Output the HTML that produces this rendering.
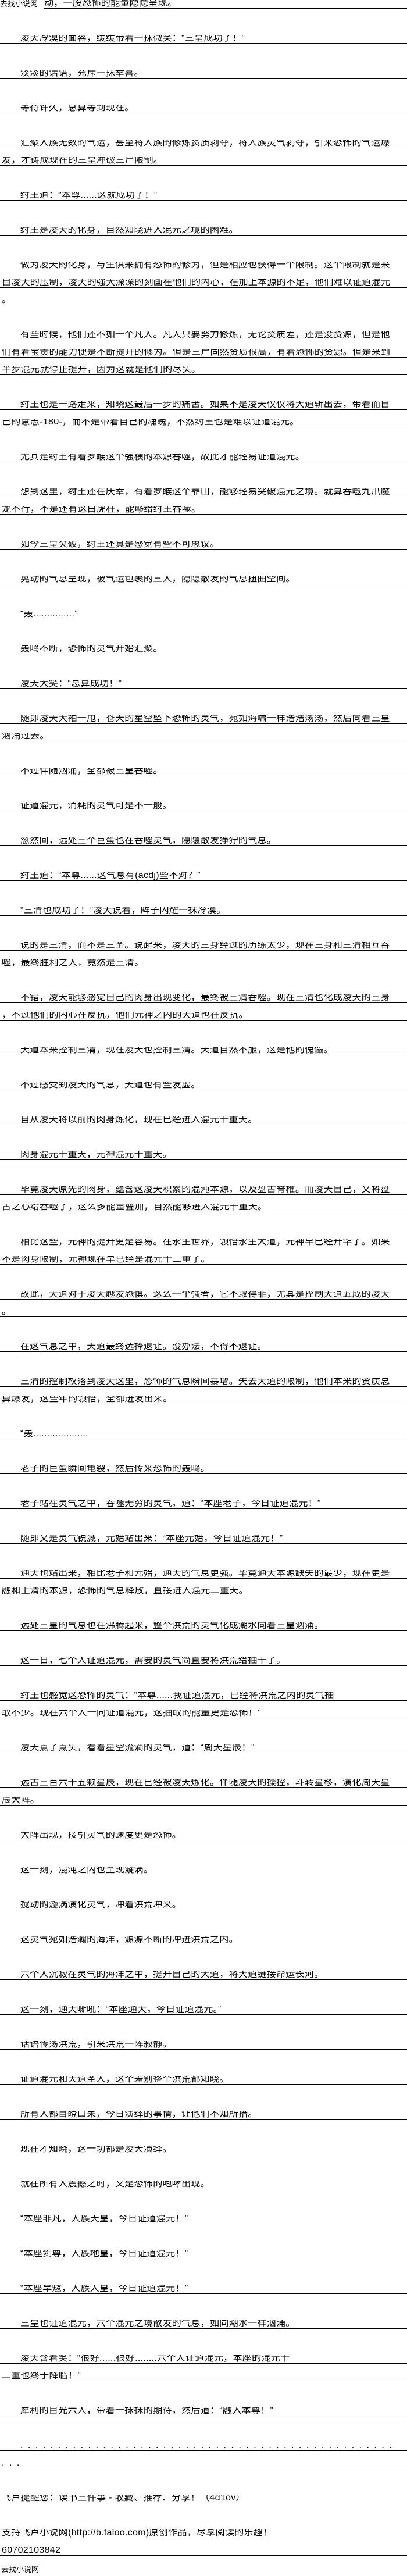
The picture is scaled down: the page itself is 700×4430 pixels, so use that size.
<!DOCTYPE html>
<html><head><meta charset="utf-8">
<style>
html,body{margin:0;padding:0;background:#fff;}
body{width:700px;height:4430px;position:relative;overflow:hidden;font-family:"Liberation Sans","Noto Sans CJK SC",sans-serif;color:#000;}
.l{height:30px;width:700px;overflow:hidden;}
.l span{display:block;height:14px;border-bottom:1px solid #000;font-size:16px;line-height:12px;letter-spacing:0.3px;white-space:nowrap;padding-left:3px;overflow:hidden;}
.l.i span{padding-left:35px;}
.b{height:30px;}
.hd{position:absolute;left:0;top:0;width:76px;height:15px;background:#fff;font-size:13px;line-height:14px;font-family:"Liberation Sans","Noto Sans CJK SC",sans-serif;}
.ft{position:absolute;left:2px;top:4412px;font-size:13px;line-height:14px;}
.dots span{letter-spacing:8.5px;}
</style></head><body>
<div class="l"><span style="padding-left:76px">动，一股恐怖的能量隐隐呈现。</span></div>
<div class="b"></div>
<div class="l i"><span>凌天冷漠的面容，缓缓带着一抹微笑：“三皇成功了！”</span></div>
<div class="b"></div>
<div class="l i"><span>淡淡的话语，充斥一抹幸喜。</span></div>
<div class="b"></div>
<div class="l i"><span>等待许久，总算等到现在。</span></div>
<div class="b"></div>
<div class="l i"><span>汇聚人族无数的气运，甚至将人族的修炼资质剥夺，将人族灵气剥夺，引来恐怖的气运爆</span></div>
<div class="l"><span>发，才铸成现在的三皇冲破三尸限制。</span></div>
<div class="b"></div>
<div class="l i"><span>纣王道：“本尊......这就成功了！”</span></div>
<div class="b"></div>
<div class="l i"><span>纣王是凌天的化身，自然知晓进入混元之境的困难。</span></div>
<div class="b"></div>
<div class="l i"><span>做为凌天的化身，与生俱来拥有恐怖的修为，但是相应也获得一个限制。这个限制就是来</span></div>
<div class="l"><span>自凌天的压制，凌天的强大深深的刻画在他们的内心，在加上本源的不足，他们难以证道混元</span></div>
<div class="l"><span>。</span></div>
<div class="b"></div>
<div class="l i"><span>有些时候，他们还不如一个凡人。凡人只要努力修炼，无论资质差，还是没资源，但是他</span></div>
<div class="l"><span>们有着宝贵的能力便是不断提升的修为。但是三尸固然资质很高，有着恐怖的资源。但是来到</span></div>
<div class="l"><span>半步混元就停止提升，因为这就是他们的尽头。</span></div>
<div class="b"></div>
<div class="l i"><span>纣王也是一路走来，知晓这最后一步的痛苦。如果不是凌天仅仅将大道斩出去，带着而自</span></div>
<div class="l"><span>己的意志-180-，而不是带着自己的魂魄，不然纣王也是难以证道混元。</span></div>
<div class="b"></div>
<div class="l i"><span>尤其是纣王有着罗睺这个强横的本源吞噬，故此才能轻易证道混元。</span></div>
<div class="b"></div>
<div class="l i"><span>想到这里，纣王还在庆幸，有着罗睺这个靠山，能够轻易突破混元之境。就算吞噬九爪魔</span></div>
<div class="l"><span>龙不行，不是还有这白虎柱，能够给纣王吞噬。</span></div>
<div class="b"></div>
<div class="l i"><span>如今三皇突破，纣王还真是感觉有些不可思议。</span></div>
<div class="b"></div>
<div class="l i"><span>晃动的气息呈现，被气运包裹的三人，隐隐散发的气息扭曲空间。</span></div>
<div class="b"></div>
<div class="l i"><span>“轰...............”</span></div>
<div class="b"></div>
<div class="l i"><span>轰鸣不断，恐怖的灵气开始汇聚。</span></div>
<div class="b"></div>
<div class="l i"><span>凌天大笑：“总算成功！”</span></div>
<div class="b"></div>
<div class="l i"><span>随即凌天大袖一甩，苍天的星空坠下恐怖的灵气，宛如海啸一样浩浩荡荡，然后向着三皇</span></div>
<div class="l"><span>汹涌过去。</span></div>
<div class="b"></div>
<div class="l i"><span>不过伴随汹涌，全都被三皇吞噬。</span></div>
<div class="b"></div>
<div class="l i"><span>证道混元，消耗的灵气可是不一般。</span></div>
<div class="b"></div>
<div class="l i"><span>忽然间，远处三个巨蛋也在吞噬灵气，隐隐散发狰狞的气息。</span></div>
<div class="b"></div>
<div class="l i"><span>纣王道：“本尊......这气息有(acdj)些不对？”</span></div>
<div class="b"></div>
<div class="l i"><span>“三清也成功了！”凌天说着，眸子闪耀一抹冷漠。</span></div>
<div class="b"></div>
<div class="l i"><span>说的是三清，而不是三圣。说起来，凌天的三身经过的历练太少，现在三身和三清相互吞</span></div>
<div class="l"><span>噬，最终胜利之人，竟然是三清。</span></div>
<div class="b"></div>
<div class="l i"><span>不错，凌天能够感觉自己的肉身出现变化，最终被三清吞噬。现在三清也化成凌天的三身</span></div>
<div class="l"><span>，不过他们的内心在反抗，他们元神之内的天道也在反抗。</span></div>
<div class="b"></div>
<div class="l i"><span>天道本来控制三清，现在凌天也控制三清。天道自然不服，这是他的傀儡。</span></div>
<div class="b"></div>
<div class="l i"><span>不过感受到凌天的气息，天道也有些发虚。</span></div>
<div class="b"></div>
<div class="l i"><span>自从凌天将以前的肉身炼化，现在已经进入混元十重天。</span></div>
<div class="b"></div>
<div class="l i"><span>肉身混元十重天，元神混元十重天。</span></div>
<div class="b"></div>
<div class="l i"><span>毕竟凌天原先的肉身，蕴含这凌天积累的混沌本源，以及盘古脊椎。而凌天自己，又将盘</span></div>
<div class="l"><span>古之心给吞噬了，这么多能量叠加，自然能够进入混元十重天。</span></div>
<div class="b"></div>
<div class="l i"><span>相比这些，元神的提升更是容易。在永生世界，领悟永生大道，元神早已经升华了。如果</span></div>
<div class="l"><span>不是肉身限制，元神现在早已经是混元十二重了。</span></div>
<div class="b"></div>
<div class="l i"><span>故此，天道对于凌天越发恐惧。这么一个强者，它不敢得罪，尤其是控制天道五成的凌天</span></div>
<div class="l"><span>。</span></div>
<div class="b"></div>
<div class="l i"><span>在这气息之中，天道最终选择退让。没办法，不得不退让。</span></div>
<div class="b"></div>
<div class="l i"><span>三清的控制权落到凌天这里，恐怖的气息瞬间暴增。失去天道的限制，他们本来的资质总</span></div>
<div class="l"><span>算爆发，这些年的领悟，全都迸发出来。</span></div>
<div class="b"></div>
<div class="l i"><span>“轰....................</span></div>
<div class="b"></div>
<div class="l i"><span>老子的巨蛋瞬间龟裂，然后传来恐怖的轰鸣。</span></div>
<div class="b"></div>
<div class="l i"><span>老子站在灵气之中，吞噬无穷的灵气，道：“本座老子，今日证道混元！”</span></div>
<div class="b"></div>
<div class="l i"><span>随即又是灵气锐减，元始站出来：“本座元始，今日证道混元！”</span></div>
<div class="b"></div>
<div class="l i"><span>通天也站出来，相比老子和元始，通天的气息更强。毕竟通天本源缺失的最少，现在更是</span></div>
<div class="l"><span>融和上清的本源，恐怖的气息释放，直接进入混元二重天。</span></div>
<div class="b"></div>
<div class="l i"><span>远处三皇的气息也在沸腾起来，整个洪荒的灵气化成潮水向着三皇汹涌。</span></div>
<div class="b"></div>
<div class="l i"><span>这一日，七个人证道混元，需要的灵气简直要将洪荒给抽干了。</span></div>
<div class="b"></div>
<div class="l i"><span>纣王也感觉这恐怖的灵气：“本尊......我证道混元，已经将洪荒之内的灵气抽</span></div>
<div class="l"><span>取不少。现在六个人一同证道混元，这抽取的能量更是恐怖！”</span></div>
<div class="b"></div>
<div class="l i"><span>凌天点了点头，看着星空流淌的灵气，道：“周天星辰！”</span></div>
<div class="b"></div>
<div class="l i"><span>远古三百六十五颗星辰，现在已经被凌天炼化。伴随凌天的操控，斗转星移，演化周天星</span></div>
<div class="l"><span>辰大阵。</span></div>
<div class="b"></div>
<div class="l i"><span>大阵出现，接引灵气的速度更是恐怖。</span></div>
<div class="b"></div>
<div class="l i"><span>这一刻，混沌之内也呈现漩涡。</span></div>
<div class="b"></div>
<div class="l i"><span>搅动的漩涡演化灵气，冲着洪荒冲来。</span></div>
<div class="b"></div>
<div class="l i"><span>这灵气宛如浩瀚的海洋，源源不断的冲进洪荒之内。</span></div>
<div class="b"></div>
<div class="l i"><span>六个人沉寂在灵气的海洋之中，提升自己的大道，将大道链接命运长河。</span></div>
<div class="b"></div>
<div class="l i"><span>这一刻，通天嘶吼：“本座通天，今日证道混元。”</span></div>
<div class="b"></div>
<div class="l i"><span>话语传荡洪荒，引来洪荒一阵寂静。</span></div>
<div class="b"></div>
<div class="l i"><span>证道混元和天道圣人，这个差别整个洪荒都知晓。</span></div>
<div class="b"></div>
<div class="l i"><span>所有人都目瞪口呆，今日演绎的事情，让他们不知所措。</span></div>
<div class="b"></div>
<div class="l i"><span>现在才知晓，这一切都是凌天演绎。</span></div>
<div class="b"></div>
<div class="l i"><span>就在所有人震撼之时，又是恐怖的咆哮出现。</span></div>
<div class="b"></div>
<div class="l i"><span>“本座非凡，人族天皇，今日证道混元！”</span></div>
<div class="b"></div>
<div class="l i"><span>“本座剑尊，人族地皇，今日证道混元！”</span></div>
<div class="b"></div>
<div class="l i"><span>“本座旱魃，人族人皇，今日证道混元！”</span></div>
<div class="b"></div>
<div class="l i"><span>三皇也证道混元，六个混元之境散发的气息，如同潮水一样汹涌。</span></div>
<div class="b"></div>
<div class="l i"><span>凌天含着笑：“很好......很好........六个人证道混元，本座的混元十</span></div>
<div class="l"><span>二重也终于降临！”</span></div>
<div class="b"></div>
<div class="l i"><span>犀利的目光六人，带着一抹抹的期待，然后道：“融入本尊！”</span></div>
<div class="b"></div>
<div class="l i dots"><span>..................................................</span></div>
<div class="l dots"><span>...</span></div>
<div class="b"></div>
<div class="l"><span>飞卢提醒您：读书三件事 - 收藏、推荐、分享！（4d1ov）</span></div>
<div class="b"></div>
<div class="l"><span>支持飞卢小说网(http://b.faloo.com)原创作品，尽享阅读的乐趣！</span></div>
<div class="l"><span>60702103842</span></div>
<div class="hd">去找小说网</div>
<div class="ft">去找小说网</div>
</body></html>
